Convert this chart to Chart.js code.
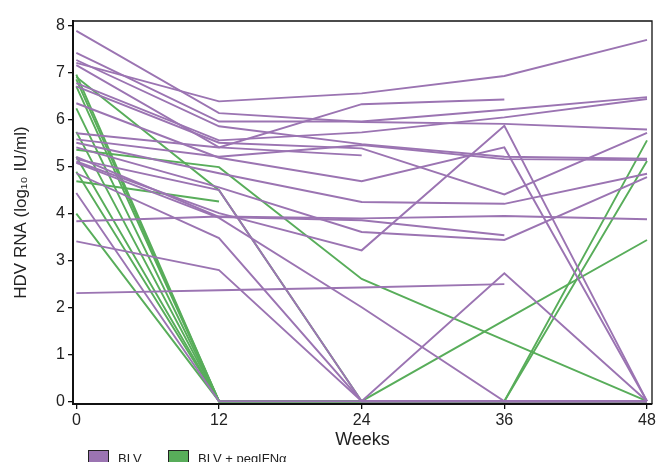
<!DOCTYPE html>
<html>
<head>
<meta charset="utf-8">
<script src="https://cdn.jsdelivr.net/npm/chart.js@4/dist/chart.umd.min.js"></script>
<style>
  html, body { margin: 0; padding: 0; background: #fff; overflow: hidden; }
  #wrap { width: 662px; height: 462px; }
</style>
</head>
<body>
<div id="wrap"><canvas id="hdvChart" width="662" height="462"></canvas></div>
<script>
// Study visits (weeks) and axis ticks
const weeks = [0, 12, 24, 36, 48];
const yTicks = [0, 1, 2, 3, 4, 5, 6, 7, 8];
const seriesNames = ["BLV", "BLV + pegIFNα"];

// HDV RNA (log10 IU/ml) per patient, one row per patient
const blvPatients = [
    [7.2, 6.38, 6.55, 6.92, 7.69],
    [7.88, 6.13, 5.94, 5.9, 5.78],
    [7.41, 5.95, 5.95, 6.2, 6.47],
    [6.77, 5.55, 5.72, 6.04, 6.43],
    [5.7, 5.4, 6.32, 6.42, null],
    [7.26, 5.85, 5.47, 5.2, 5.16],
    [7.15, 5.4, 5.23, null, null],
    [6.7, 5.5, 5.38, 4.4, 5.71],
    [6.34, 5.18, 4.68, 5.4, 0],
    [5.1, 4.0, 3.21, 5.86, 0],
    [5.57, 5.2, 5.45, 5.15, 5.13],
    [5.5, 4.85, 4.24, 4.2, 4.84],
    [5.4, 4.55, 3.6, 3.43, 4.77],
    [5.2, 3.92, 3.85, 3.53, null],
    [3.83, 3.93, 3.89, 3.94, 3.87],
    [2.3, 2.36, 2.42, 2.49, null],
    [3.4, 2.79, 0, 2.72, 0],
    [4.43, 0, 0, 0, 0],
    [5.15, 4.49, 0, 0, 0],
    [4.85, 3.47, 0, 0, 0],
    [5.07, 3.9, 2.0, 0, 0],
];

const pegPatients = [
    [6.95, 0, 0, 0, 0],
    [5.35, 4.98, 2.6, 1.3, 0],
    [6.85, 0, 0, 0, 5.55],
    [6.7, 0, 0, 0, 0],
    [6.23, 0, 0, 0, 5.11],
    [5.73, 0, 0, 0, 0],
    [6.9, 4.49, 0, 1.72, 3.43],
    [5.2, 0, 0, 0, 0],
    [4.88, 0, 0, 0, 0],
    [4.68, 4.25, null, null, null],
    [3.99, 0, 0, 0, 0],
];

const purple = "#9b74b2";
const green = "#58ad5a";

function toPoints(row) {
    return weeks.map((w, i) => ({ x: w, y: row[i] }));
}

function makeSet(row, color, group) {
    return {
        label: group,
        data: toPoints(row),
        borderColor: color,
        backgroundColor: color,
        borderWidth: 1.9,
        pointRadius: 0,
        tension: 0,
        fill: false,
    };
}

const datasets = [
    ...blvPatients.map((r) => makeSet(r, purple, seriesNames[0])),
    ...pegPatients.map((r) => makeSet(r, green, seriesNames[1])),
];

// top/right frame of the plot box plus the small legend under the axis
const framePlugin = {
    id: "frame",
    afterDraw(chart) {
        const { ctx, chartArea: a } = chart;
        ctx.save();
        ctx.strokeStyle = "#111";
        ctx.lineWidth = 1.3;
        ctx.beginPath();
        ctx.moveTo(a.left, a.top);
        ctx.lineTo(a.right, a.top);
        ctx.lineTo(a.right, a.bottom);
        ctx.stroke();

        const items = [
            { text: seriesNames[0], color: purple, x: 88 },
            { text: seriesNames[1], color: green, x: 168 },
        ];
        ctx.font = "13px 'Liberation Sans', Arial, sans-serif";
        ctx.textBaseline = "alphabetic";
        items.forEach((it) => {
            ctx.fillStyle = it.color;
            ctx.fillRect(it.x, 450.5, 20, 14);
            ctx.strokeStyle = "#222";
            ctx.lineWidth = 1;
            ctx.strokeRect(it.x + 0.5, 450.5, 20, 14);
            ctx.fillStyle = "#222";
            ctx.fillText(it.text, it.x + 30, 462.5);
        });
        ctx.restore();
    },
};

const ctx = document.getElementById("hdvChart").getContext("2d");
new Chart(ctx, {
    type: "line",
    data: { datasets: datasets },
    options: {
        responsive: false,
        animation: false,
        layout: { padding: { top: 21, right: 10, left: 0, bottom: 0 } },
        plugins: {
            legend: { display: false },
            tooltip: { enabled: false },
        },
        scales: {
            x: {
                type: "linear",
                min: -0.28,
                max: 48.42,
                afterBuildTicks: (scale) => {
                    scale.ticks = weeks.map((v) => ({ value: v }));
                },
                afterFit: (scale) => {
                    scale.height = 58;
                },
                grid: {
                    drawOnChartArea: false,
                    drawTicks: true,
                    tickLength: 5,
                    color: "#111",
                    lineWidth: 1.3,
                },
                border: { display: true, color: "#111", width: 2 },
                ticks: {
                    color: "#222",
                    padding: 2,
                    maxRotation: 0,
                    font: { family: "'Liberation Sans', Arial, sans-serif", size: 16 },
                },
                title: {
                    display: true,
                    text: "Weeks",
                    color: "#222",
                    padding: { top: 0, bottom: 11 },
                    font: { family: "'Liberation Sans', Arial, sans-serif", size: 18 },
                },
            },
            y: {
                min: -0.06,
                max: 8.09,
                afterBuildTicks: (scale) => {
                    scale.ticks = yTicks.map((v) => ({ value: v }));
                },
                afterFit: (scale) => {
                    scale.width = 73;
                },
                grid: {
                    drawOnChartArea: false,
                    drawTicks: true,
                    tickLength: 5,
                    color: "#111",
                    lineWidth: 1.3,
                },
                border: { display: true, color: "#111", width: 2 },
                ticks: {
                    color: "#222",
                    padding: 3,
                    font: { family: "'Liberation Sans', Arial, sans-serif", size: 16 },
                },
                title: {
                    display: true,
                    text: "HDV RNA (log₁₀ IU/ml)",
                    color: "#222",
                    padding: { top: 11, bottom: 0 },
                    font: { family: "'Liberation Sans', Arial, sans-serif", size: 17 },
                },
            },
        },
    },
    plugins: [framePlugin],
});
</script>
</body>
</html>
